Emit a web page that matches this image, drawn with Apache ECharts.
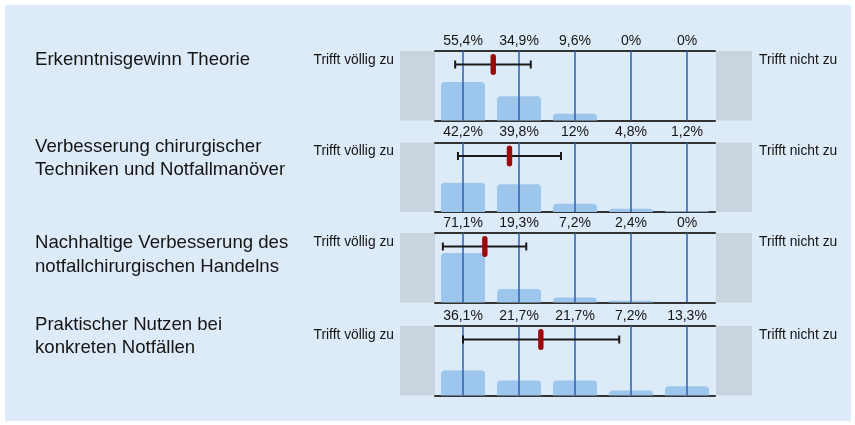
<!DOCTYPE html>
<html>
<head>
<meta charset="utf-8">
<script src="https://cdn.jsdelivr.net/npm/echarts@6/dist/echarts.min.js"></script>
<style>
html,body{margin:0;padding:0;background:#fff;}
#chart{width:855px;height:425px;}
</style>
</head>
<body>
<div id="chart"></div>
<script>
// ---- data ----
const items = [
  "Erkenntnisgewinn Theorie",
  "Verbesserung chirurgischer\nTechniken und Notfallmanöver",
  "Nachhaltige Verbesserung des\nnotfallchirurgischen Handelns",
  "Praktischer Nutzen bei\nkonkreten Notfällen"
];
const scaleLeft = "Trifft völlig zu";
const scaleRight = "Trifft nicht zu";
const categories = [1, 2, 3, 4, 5];
const pct1 = [55.4, 34.9, 9.6, 0, 0];
const pct2 = [42.2, 39.8, 12, 4.8, 1.2];
const pct3 = [71.1, 19.3, 7.2, 2.4, 0];
const pct4 = [36.1, 21.7, 21.7, 7.2, 13.3];
const percents = [pct1, pct2, pct3, pct4];
const means = [1.54, 1.83, 1.39, 2.39];
const lows  = [0.86, 0.91, 0.64, 1.00];
const highs = [2.21, 2.75, 2.13, 3.79];

// ---- layout ----
const FONT = "Liberation Sans, Arial, sans-serif";
const gridLeft = 435, gridWidth = 280, gridH = 69.5;
const tops = [51, 142.5, 233, 326];
const titleTops = [48.3, 135, 231.7, 313.4];

const fmt = v => String(v).replace('.', ',') + '%';

const grids = [], xAxes = [], yAxes = [], series = [], graphics = [];

graphics.push({type:'rect', shape:{x:5, y:5, width:846, height:416}, style:{fill:'#ddeaf7'}, z:-10, silent:true});

percents.forEach((vals, i) => {
  const top = tops[i];
  grids.push({left: gridLeft, top: top, width: gridWidth, height: gridH});
  xAxes.push({
    type:'value', gridIndex:i, min:0.5, max:5.5, position:'bottom',
    axisLine:{show:true, onZero:false, lineStyle:{color:'#333', width:2}},
    axisTick:{show:false}, axisLabel:{show:false}, splitLine:{show:false}
  });
  xAxes.push({
    type:'category', gridIndex:i, position:'top', boundaryGap:true,
    data: vals.map(fmt),
    axisLine:{show:true, onZero:false, lineStyle:{color:'#333', width:2}},
    axisTick:{show:false},
    axisLabel:{show:true, margin:3, color:'#151515', fontSize:14, fontFamily:FONT, interval:0},
    splitLine:{show:false}
  });
  yAxes.push({type:'value', gridIndex:i, min:0, max:100, show:false, splitLine:{show:false}});

  series.push({
    type:'bar', xAxisIndex:2*i, yAxisIndex:i, barWidth:44, z:2,
    data: categories.map((c, k) => [c, vals[k]]),
    itemStyle:{color:'#9cc6ec', borderRadius:[4,4,0,0]},
    silent:true
  });
  series.push({
    type:'line', xAxisIndex:2*i, yAxisIndex:i, data:[], z:3, silent:true,
    markLine:{
      silent:true, symbol:'none', label:{show:false},
      lineStyle:{color:'#2d5fb3', width:1.5, type:'solid'},
      animation:false,
      data: categories.map(c => ({xAxis:c}))
    }
  });
  series.push({
    type:'custom', xAxisIndex:2*i, yAxisIndex:i, z:5, silent:true,
    encode:{x:[0,1,2]},
    data:[[means[i], lows[i], highs[i]]],
    renderItem: function(params, api){
      const y = params.coordSys.y + 13.5;
      const pm = api.coord([api.value(0), 0])[0];
      const pl = api.coord([api.value(1), 0])[0];
      const ph = api.coord([api.value(2), 0])[0];
      const ls = {stroke:'#1a1a1a', lineWidth:2};
      return {type:'group', children:[
        {type:'line', shape:{x1:pl, y1:y, x2:ph, y2:y}, style:ls},
        {type:'line', shape:{x1:pl, y1:y-4, x2:pl, y2:y+4}, style:ls},
        {type:'line', shape:{x1:ph, y1:y-4, x2:ph, y2:y+4}, style:ls},
        {type:'rect', shape:{x:pm-2.7, y:y-10.5, width:5.4, height:21, r:2.7}, style:{fill:'#9a0b0e'}}
      ]};
    }
  });

  graphics.push({type:'rect', shape:{x:400, y:top, width:35, height:gridH}, style:{fill:'#c9d4df'}, z:-5, silent:true});
  graphics.push({type:'rect', shape:{x:716, y:top, width:36, height:gridH}, style:{fill:'#c9d4df'}, z:-5, silent:true});
  graphics.push({type:'text', x:394, y:top+9, style:{text:scaleLeft, font:'13.8px '+FONT, fill:'#151515', align:'right', verticalAlign:'middle'}, silent:true});
  graphics.push({type:'text', x:759, y:top+9, style:{text:scaleRight, font:'13.8px '+FONT, fill:'#151515', align:'left', verticalAlign:'middle'}, silent:true});
  graphics.push({type:'text', x:35, y:titleTops[i], style:{text:items[i], font:'18.6px '+FONT, fill:'#151515', lineHeight:23.3, align:'left', verticalAlign:'top'}, silent:true});
});

const chart = echarts.init(document.getElementById('chart'), null, {renderer:'canvas'});
chart.setOption({
  animation:false,
  backgroundColor:'#ffffff',
  grid: grids,
  xAxis: xAxes,
  yAxis: yAxes,
  series: series,
  graphic: graphics
});
</script>
</body>
</html>
